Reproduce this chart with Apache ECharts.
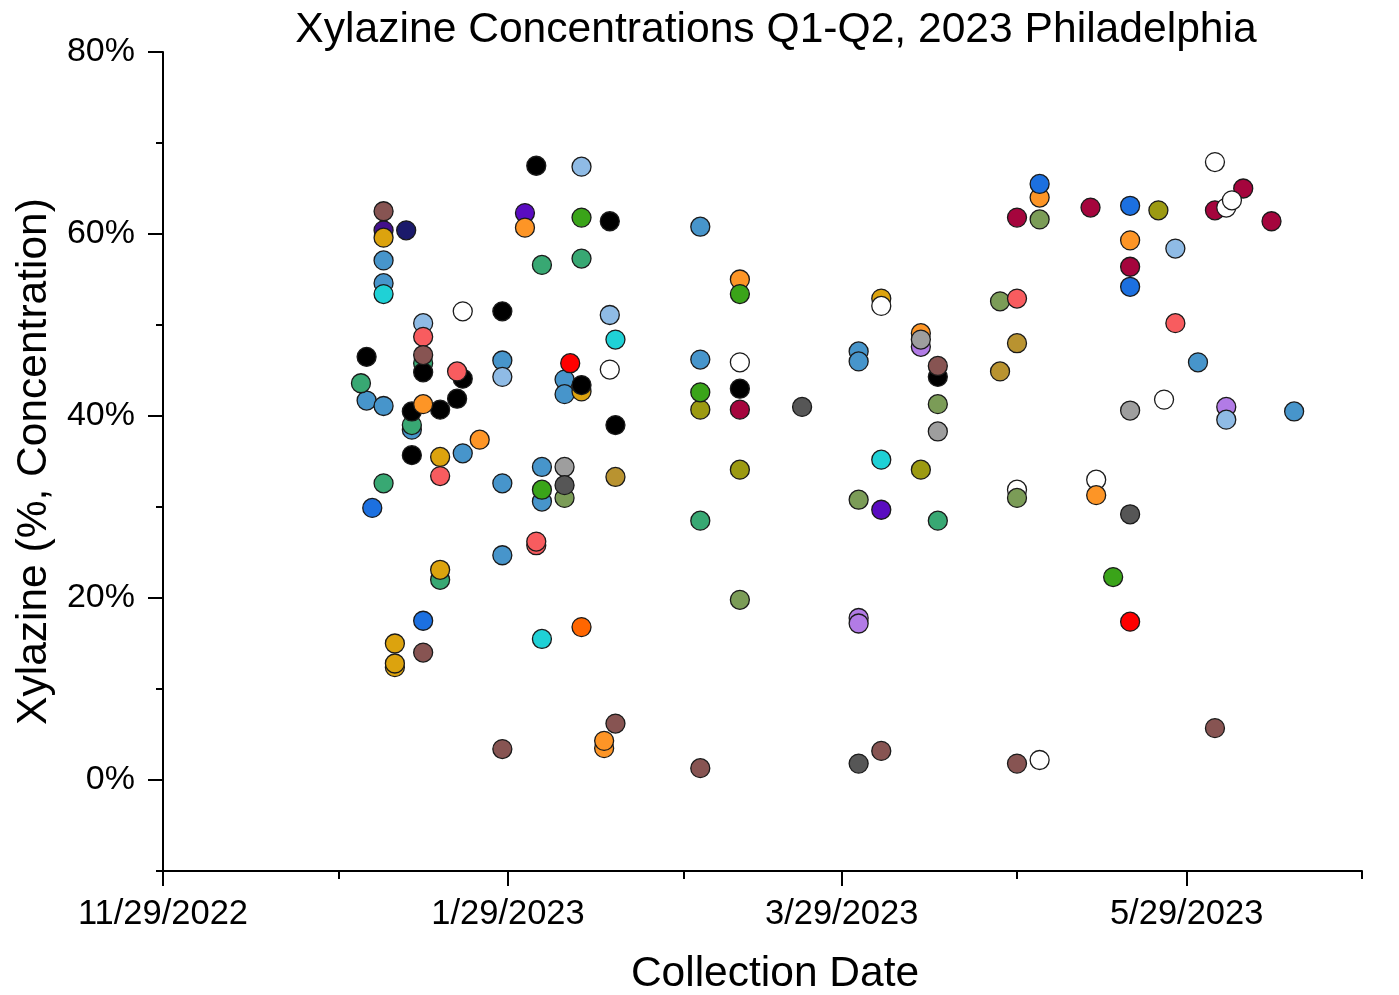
<!DOCTYPE html>
<html>
<head>
<meta charset="utf-8">
<title>Xylazine Concentrations Q1-Q2, 2023 Philadelphia</title>
<script src="https://cdn.jsdelivr.net/npm/echarts@6/dist/echarts.min.js"></script>
<style>
  html, body { margin: 0; padding: 0; background: #ffffff; }
  #chart { width: 1399px; height: 995px; }
</style>
</head>
<body>
<div id="chart"></div>
<script>
// Sample collection date and xylazine concentration (%), grouped by marker colour.
const indigo = [['2023-01-07', 60.4]];
const purple = [['2023-02-01', 62.3], ['2023-04-05', 29.7]];
const steelBlue = [
  ['2023-01-04', 41.7], ['2023-01-07', 57.1], ['2023-01-07', 54.6], ['2023-01-07', 41.1],
  ['2023-01-12', 38.5], ['2023-01-21', 35.9], ['2023-01-28', 46.1], ['2023-01-28', 32.6],
  ['2023-01-28', 24.7], ['2023-02-04', 34.4], ['2023-02-04', 30.6], ['2023-02-08', 44.0],
  ['2023-02-08', 42.4], ['2023-03-04', 60.8], ['2023-03-04', 46.2], ['2023-04-01', 47.1],
  ['2023-04-01', 46.0], ['2023-05-31', 45.9], ['2023-06-17', 40.5]
];
const lightPurple = [['2023-04-01', 17.8], ['2023-04-01', 17.2], ['2023-04-12', 47.6], ['2023-06-05', 41.0]];
const seaGreen = [
  ['2023-01-03', 43.6], ['2023-01-07', 32.6], ['2023-01-12', 39.0], ['2023-01-14', 45.8],
  ['2023-01-17', 22.0], ['2023-02-04', 56.6], ['2023-02-11', 57.3], ['2023-03-04', 28.5],
  ['2023-04-15', 28.5]
];
const gold = [
  ['2023-01-07', 59.6], ['2023-01-09', 15.0], ['2023-01-09', 12.4], ['2023-01-09', 12.8],
  ['2023-01-17', 35.5], ['2023-01-17', 23.1], ['2023-02-11', 42.7], ['2023-04-05', 52.9]
];
const olive = [['2023-03-04', 40.7], ['2023-03-11', 34.1], ['2023-04-12', 34.1], ['2023-05-24', 62.6]];
const tan = [['2023-02-17', 33.3], ['2023-04-26', 44.9], ['2023-04-29', 48.0]];
const lightBlue = [
  ['2023-01-14', 50.2], ['2023-01-28', 44.3], ['2023-02-11', 67.4], ['2023-02-16', 51.1],
  ['2023-05-27', 58.4], ['2023-06-05', 39.6]
];
const black = [
  ['2023-01-04', 46.5], ['2023-01-12', 40.5], ['2023-01-12', 35.7], ['2023-01-14', 44.8],
  ['2023-01-17', 40.7], ['2023-01-20', 41.9], ['2023-01-21', 44.1], ['2023-01-28', 51.5],
  ['2023-02-03', 67.5], ['2023-02-11', 43.4], ['2023-02-16', 61.4], ['2023-02-17', 39.0],
  ['2023-03-11', 43.0], ['2023-04-15', 44.3]
];
const crimson = [
  ['2023-03-11', 40.7], ['2023-04-29', 61.8], ['2023-05-12', 62.9], ['2023-05-19', 56.4],
  ['2023-06-03', 62.6], ['2023-06-08', 65.0], ['2023-06-13', 61.4]
];
const white = [
  ['2023-01-21', 51.5], ['2023-02-16', 45.1], ['2023-03-11', 45.9], ['2023-04-05', 52.1],
  ['2023-04-29', 31.9], ['2023-05-03', 2.2], ['2023-05-13', 33.0], ['2023-05-25', 41.8],
  ['2023-06-03', 67.9], ['2023-06-05', 62.9], ['2023-06-06', 63.7]
];
const oliveGreen = [
  ['2023-02-08', 31.0], ['2023-03-11', 19.8], ['2023-04-01', 30.8], ['2023-04-15', 41.3],
  ['2023-04-26', 52.6], ['2023-04-29', 31.0], ['2023-05-03', 61.6]
];
const orange = [
  ['2023-01-14', 41.3], ['2023-01-24', 37.4], ['2023-02-01', 60.7], ['2023-02-15', 3.5],
  ['2023-02-15', 4.3], ['2023-03-11', 55.0], ['2023-04-12', 49.1], ['2023-05-03', 64.0],
  ['2023-05-13', 31.3], ['2023-05-19', 59.3]
];
const gray = [['2023-02-08', 34.4], ['2023-04-12', 48.4], ['2023-04-15', 38.3], ['2023-05-19', 40.6]];
const darkGray = [['2023-02-08', 32.4], ['2023-03-22', 41.0], ['2023-04-01', 1.8], ['2023-05-19', 29.2]];
const salmon = [
  ['2023-01-14', 48.7], ['2023-01-17', 33.4], ['2023-01-20', 44.9], ['2023-02-03', 25.8],
  ['2023-02-03', 26.2], ['2023-04-29', 52.9], ['2023-05-27', 50.2]
];
const brown = [
  ['2023-01-07', 62.5], ['2023-01-14', 46.7], ['2023-01-14', 14.0], ['2023-01-28', 3.4],
  ['2023-02-17', 6.2], ['2023-03-04', 1.3], ['2023-04-05', 3.2], ['2023-04-15', 45.5],
  ['2023-04-29', 1.8], ['2023-06-03', 5.7]
];
const brightGreen = [['2023-02-04', 31.9], ['2023-02-11', 61.8], ['2023-03-04', 42.6], ['2023-03-11', 53.4], ['2023-05-16', 22.3]];
const brightBlue = [['2023-01-05', 29.9], ['2023-01-14', 17.5], ['2023-05-03', 65.5], ['2023-05-19', 63.1], ['2023-05-19', 54.2]];
const cyan = [['2023-01-07', 53.4], ['2023-02-04', 15.5], ['2023-02-17', 48.4], ['2023-04-05', 35.2]];
const red = [['2023-02-09', 45.8], ['2023-05-19', 17.4]];
const orangeRed = [['2023-02-11', 16.8]];
const navy = [['2023-01-11', 60.4]];

// Axis ranges and tick positions
const xRange = ['2022-11-29', '2023-06-29'];
const xMajorTicks = ['2022-11-29', '2023-01-29', '2023-03-29', '2023-05-29'];
const xMinorTicks = ['2022-12-30', '2023-03-01', '2023-04-29', '2023-06-29'];
const yRange = [-10, 80];
const yMajorTicks = [0, 20, 40, 60, 80];
const yMinorTicks = [-10, 10, 30, 50, 70];

// Marker fills, in drawing order (later groups sit on top)
const groups = [
  ['indigo', indigo, '#42108c'],
  ['purple', purple, '#5a0cc0'],
  ['steelBlue', steelBlue, '#4795cb'],
  ['lightPurple', lightPurple, '#b27be6'],
  ['seaGreen', seaGreen, '#38a873'],
  ['gold', gold, '#dca30e'],
  ['olive', olive, '#9c9a12'],
  ['tan', tan, '#b99330'],
  ['lightBlue', lightBlue, '#8fbbe5'],
  ['black', black, '#000000'],
  ['crimson', crimson, '#a5053d'],
  ['white', white, '#ffffff'],
  ['oliveGreen', oliveGreen, '#7b9c57'],
  ['orange', orange, '#fd9526'],
  ['gray', gray, '#9e9e9e'],
  ['darkGray', darkGray, '#565656'],
  ['salmon', salmon, '#f85c5f'],
  ['brown', brown, '#875452'],
  ['brightGreen', brightGreen, '#3aa419'],
  ['brightBlue', brightBlue, '#1c70e0'],
  ['cyan', cyan, '#1fd1d6'],
  ['red', red, '#ff0000'],
  ['orangeRed', orangeRed, '#ff6600'],
  ['navy', navy, '#1b1a6b']
];

// Dates are plotted as timestamps on a numeric axis
function ts(s) {
  const p = s.split('-').map(Number);
  return new Date(p[0], p[1] - 1, p[2]).getTime();
}
function fmtDate(v) {
  const d = new Date(v);
  return (d.getMonth() + 1) + '/' + d.getDate() + '/' + d.getFullYear();
}

const FONT = "'Liberation Sans', Arial, sans-serif";
const lineStyle = { color: '#000', width: 2 };

const chart = echarts.init(document.getElementById('chart'), null, { renderer: 'canvas' });

chart.setOption({
  backgroundColor: '#ffffff',
  animation: false,
  title: {
    text: 'Xylazine Concentrations Q1-Q2, 2023 Philadelphia',
    left: 771,
    textAlign: 'center',
    top: 4,
    textStyle: { fontFamily: FONT, fontSize: 42.6, fontWeight: 'normal', color: '#000' }
  },
  grid: { left: 163, top: 52, width: 1199, height: 819, containLabel: false, outerBoundsMode: 'none' },
  xAxis: [
    {
      type: 'value',
      min: ts(xRange[0]),
      max: ts(xRange[1]),
      name: 'Collection Date',
      nameLocation: 'middle',
      nameGap: 82,
      nameTextStyle: { fontFamily: FONT, fontSize: 42.5, color: '#000', padding: [0, 0, 0, 25] },
      axisLine: { show: true, onZero: false, lineStyle: lineStyle },
      axisTick: { show: true, length: 15, lineStyle: lineStyle, customValues: xMajorTicks.map(ts) },
      axisLabel: {
        show: true, margin: 26, fontFamily: FONT, fontSize: 34.5, color: '#000',
        customValues: xMajorTicks.map(ts), formatter: fmtDate, hideOverlap: false
      },
      splitLine: { show: false }
    },
    {
      type: 'value',
      min: ts(xRange[0]),
      max: ts(xRange[1]),
      position: 'bottom',
      axisLine: { show: false, onZero: false },
      axisTick: { show: true, length: 8, lineStyle: lineStyle, customValues: xMinorTicks.map(ts) },
      axisLabel: { show: false },
      splitLine: { show: false }
    }
  ],
  yAxis: [
    {
      type: 'value',
      min: yRange[0],
      max: yRange[1],
      interval: 10,
      name: 'Xylazine (%, Concentration)',
      nameLocation: 'middle',
      nameRotate: 90,
      nameGap: 104,
      nameTextStyle: { fontFamily: FONT, fontSize: 42.5, color: '#000' },
      axisLine: { show: true, onZero: false, lineStyle: lineStyle },
      axisTick: { show: true, length: 15, lineStyle: lineStyle, customValues: yMajorTicks },
      axisLabel: {
        show: true, margin: 28, fontFamily: FONT, fontSize: 34, color: '#000',
        customValues: yMajorTicks, formatter: v => v + '%'
      },
      splitLine: { show: false }
    },
    {
      type: 'value',
      min: yRange[0],
      max: yRange[1],
      interval: 10,
      position: 'left',
      axisLine: { show: false, onZero: false },
      axisTick: { show: true, length: 7, lineStyle: lineStyle, customValues: yMinorTicks },
      axisLabel: { show: false },
      splitLine: { show: false }
    }
  ],
  series: groups.map(([name, data, color]) => ({
    name: name,
    type: 'scatter',
    xAxisIndex: 0,
    yAxisIndex: 0,
    symbol: 'circle',
    symbolSize: 19,
    data: data.map(([d, v]) => [ts(d), v]),
    itemStyle: { color: color, borderColor: '#1a1a1a', borderWidth: 1.3, opacity: 1 },
    emphasis: { disabled: true }
  }))
});
</script>
</body>
</html>
